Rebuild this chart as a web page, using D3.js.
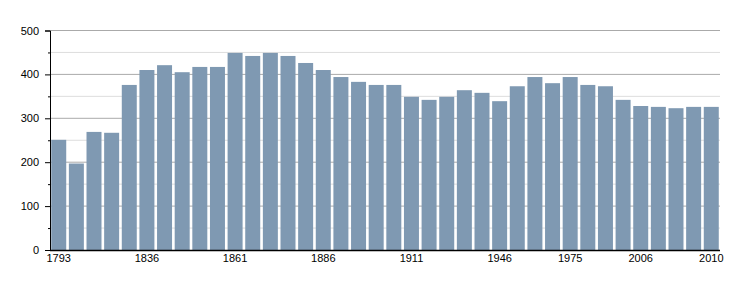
<!DOCTYPE html>
<html><head><meta charset="utf-8">
<script src="https://cdn.jsdelivr.net/npm/d3@7"></script>
<style>body{margin:0;background:#fff}text{font-family:"Liberation Sans",Arial,sans-serif;font-size:11px;fill:#000}</style>
</head><body><svg id="c" width="750" height="300"></svg>
<script>
const years = ["1793","1800","1806","1821","1831","1836","1841","1846","1851","1856","1861","1866","1872","1876","1881","1886","1891","1896","1901","1906","1911","1921","1926","1931","1936","1946","1954","1962","1968","1975","1982","1990","1999","2006","2007","2008","2009","2010"];
const population = [251,197,269,267,376,410,421,405,417,417,449,442,449,442,426,410,394,383,376,376,349,342,349,364,358,339,373,394,380,394,376,373,342,328,326,323,326,326];
const shownLabels = ["1793","1836","1861","1886","1911","1946","1975","2006","2010"];
const majorTicks = [0,100,200,300,400,500];
const minorTicks = [50,150,250,350,450];

const svg = d3.select("#c");
const m = {l:50, r:30, t:30.5, b:50};
const W = 750, H = 300;
const x = d3.scaleBand().domain(years).range([m.l, W-m.r]).paddingInner(0.15).paddingOuter(0.07);
const y = d3.scaleLinear().domain([0,500]).range([H-m.b, m.t]);

svg.append("g").selectAll("line").data(minorTicks).join("line")
  .attr("x1", m.l).attr("x2", W-m.r).attr("y1", d=>y(d)).attr("y2", d=>y(d))
  .attr("stroke", "#ddd").attr("stroke-width", 1);
svg.append("g").selectAll("line").data(majorTicks.filter(d=>d>0)).join("line")
  .attr("x1", m.l).attr("x2", W-m.r).attr("y1", d=>y(d)).attr("y2", d=>y(d))
  .attr("stroke", "#aaa").attr("stroke-width", 1);

svg.append("g").selectAll("rect").data(years).join("rect")
  .attr("x", d=>x(d)).attr("width", x.bandwidth())
  .attr("y", (d,i)=>y(population[i])).attr("height", (d,i)=>y(0)-y(population[i]))
  .attr("fill", "#7f99b2");

const yAxis = d3.axisLeft(y).tickValues(majorTicks).tickSize(5).tickPadding(6).tickFormat(d3.format("d"));
const gy = svg.append("g").attr("transform", `translate(${m.l},0)`).call(yAxis);
gy.select(".domain").attr("stroke","#000");
gy.selectAll(".tick line").attr("stroke","#000");
gy.selectAll("text").attr("fill","#000").style("font-size","11px").style("font-family","Liberation Sans, Arial, sans-serif");
const gym = svg.append("g").attr("transform", `translate(${m.l},0)`)
  .call(d3.axisLeft(y).tickValues(minorTicks).tickSize(2).tickFormat(""));
gym.select(".domain").remove();
gym.selectAll(".tick line").attr("stroke","#000");

const xAxis = d3.axisBottom(x).tickValues(shownLabels).tickSize(0).tickPadding(4);
const gx = svg.append("g").attr("transform", `translate(0,${y(0)})`).call(xAxis);
gx.select(".domain").attr("stroke","#000").attr("d", `M${m.l},0.5H${W-m.r}`).attr("stroke-width",1.5);
gx.selectAll("text").attr("fill","#000").style("font-size","11px").style("font-family","Liberation Sans, Arial, sans-serif");
</script></body></html>
